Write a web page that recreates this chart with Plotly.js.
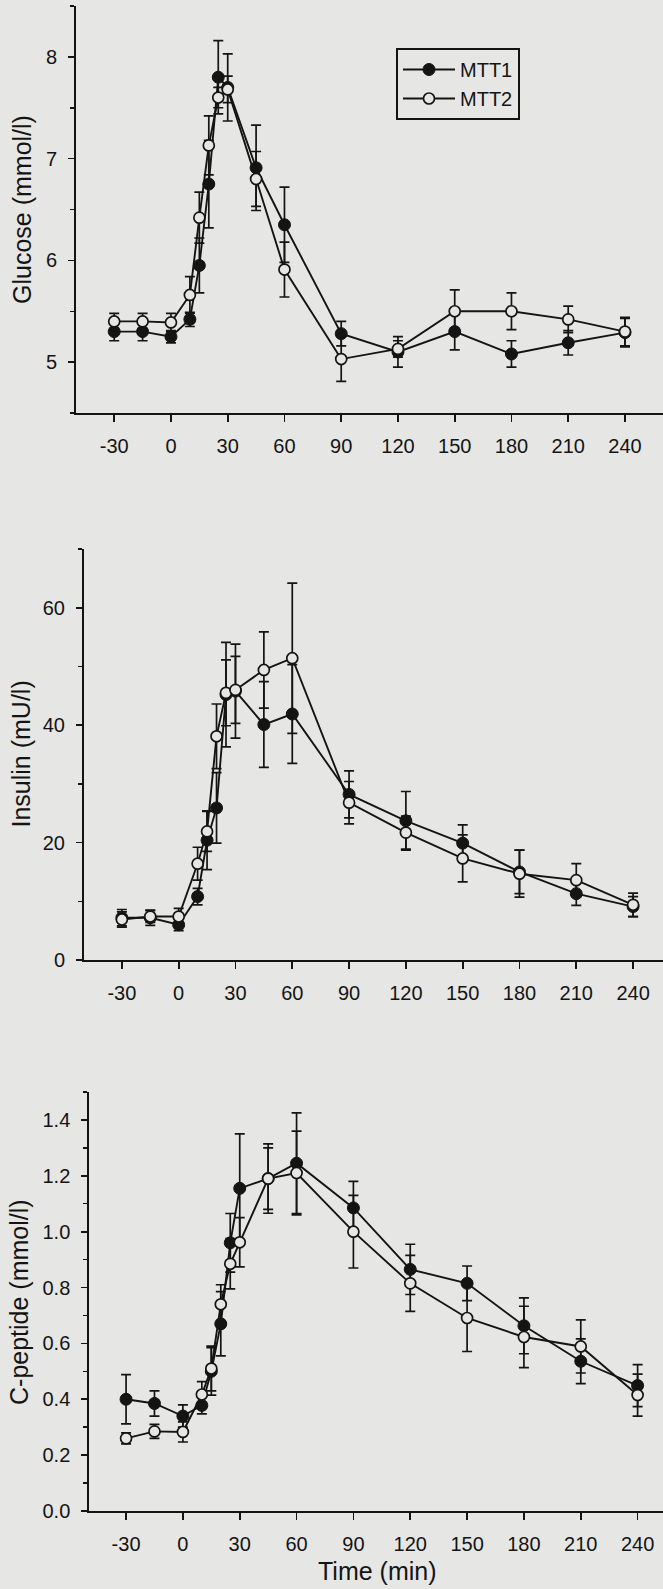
<!DOCTYPE html>
<html><head><meta charset="utf-8">
<script src="https://cdn.plot.ly/plotly-3.0.1.min.js"></script>
<style>html,body{margin:0;padding:0;background:#e6e6e4;} #chart{width:663px;height:1589px;}</style>
</head><body><div id="chart"></div>
<script>
// ---- data ----
const time = [-30, -15, 0, 10, 15, 20, 25, 30, 45, 60, 90, 120, 150, 180, 210, 240];
const xTickVals = [-30, 0, 30, 60, 90, 120, 150, 180, 210, 240];
const xTickText = ["-30", "0", "30", "60", "90", "120", "150", "180", "210", "240"];
const seriesNames = ["MTT1", "MTT2"];

const glucoseMTT1    = [5.30, 5.30, 5.25, 5.42, 5.95, 6.75, 7.80, 7.70, 6.91, 6.35, 5.28, 5.10, 5.30, 5.08, 5.19, 5.29];
const glucoseMTT1Err = [0.09, 0.09, 0.06, 0.07, 0.27, 0.43, 0.36, 0.33, 0.42, 0.37, 0.12, 0.15, 0.18, 0.13, 0.12, 0.14];
const glucoseMTT2    = [5.40, 5.40, 5.39, 5.66, 6.42, 7.13, 7.60, 7.68, 6.80, 5.91, 5.03, 5.13, 5.50, 5.50, 5.42, 5.30];
const glucoseMTT2Err = [0.08, 0.08, 0.09, 0.18, 0.25, 0.29, 0.10, 0.13, 0.27, 0.27, 0.22, 0.08, 0.21, 0.18, 0.13, 0.14];

const insulinMTT1    = [7.2, 7.2, 6.0, 10.8, 20.4, 25.9, 45.2, 45.8, 40.1, 41.9, 28.2, 23.7, 19.9, 15.0, 11.3, 9.1];
const insulinMTT1Err = [1.4, 1.3, 1.0, 1.4, 5.0, 6.0, 8.9, 8.0, 7.3, 8.4, 4.0, 5.0, 3.1, 3.7, 2.0, 1.7];
const insulinMTT2    = [6.9, 7.4, 7.4, 16.4, 21.9, 38.1, 45.5, 46.0, 49.4, 51.4, 26.8, 21.7, 17.3, 14.7, 13.6, 9.4];
const insulinMTT2Err = [1.3, 1.0, 1.4, 2.8, 3.4, 5.5, 5.6, 5.7, 6.5, 12.8, 3.6, 2.8, 4.0, 4.0, 2.8, 2.0];

const cpepMTT1    = [0.400, 0.385, 0.340, 0.378, 0.500, 0.670, 0.960, 1.155, 1.190, 1.245, 1.085, 0.865, 0.815, 0.663, 0.536, 0.449];
const cpepMTT1Err = [0.088, 0.045, 0.040, 0.030, 0.085, 0.115, 0.105, 0.195, 0.124, 0.180, 0.095, 0.090, 0.062, 0.100, 0.080, 0.075];
const cpepMTT2    = [0.260, 0.285, 0.283, 0.417, 0.510, 0.740, 0.885, 0.962, 1.190, 1.210, 1.000, 0.815, 0.691, 0.623, 0.589, 0.415];
const cpepMTT2Err = [0.020, 0.025, 0.036, 0.046, 0.080, 0.070, 0.090, 0.088, 0.110, 0.150, 0.130, 0.100, 0.120, 0.110, 0.095, 0.075];

// ---- style ----
const BG = '#e6e6e4';
const INK = '#141414';
const FONT = 'Liberation Sans, Arial, Helvetica, sans-serif';
const W = 663, H = 1589;

function pair(xa, ya, y1, e1, y2, e2, showLeg) {
  const common = {
    x: time, xaxis: xa, yaxis: ya, mode: 'lines+markers',
    line: {color: INK, width: 1.9}, cliponaxis: false
  };
  return [
    Object.assign({}, common, {
      y: y1, name: seriesNames[0], legendgroup: 'a', showlegend: showLeg,
      marker: {symbol: 'circle', size: 12, color: INK, line: {color: INK, width: 1}},
      error_y: {type: 'data', array: e1, visible: true, color: INK, thickness: 1.7, width: 5}
    }),
    Object.assign({}, common, {
      y: y2, name: seriesNames[1], legendgroup: 'b', showlegend: showLeg,
      marker: {symbol: 'circle', size: 11, color: BG, line: {color: INK, width: 1.7}},
      error_y: {type: 'data', array: e2, visible: true, color: INK, thickness: 1.7, width: 5}
    })
  ];
}

const data = [].concat(
  pair('x', 'y', glucoseMTT1, glucoseMTT1Err, glucoseMTT2, glucoseMTT2Err, true),
  pair('x2', 'y2', insulinMTT1, insulinMTT1Err, insulinMTT2, insulinMTT2Err, false),
  pair('x3', 'y3', cpepMTT1, cpepMTT1Err, cpepMTT2, cpepMTT2Err, false)
);

function xax(left, range, anchor) {
  return {
    domain: [left / W, 1], range: range, anchor: anchor,
    tickmode: 'array', tickvals: xTickVals, ticktext: xTickText,
    showgrid: false, zeroline: false, showline: true, linecolor: INK, linewidth: 2,
    ticks: 'outside', ticklen: 7, tickwidth: 1.7, tickcolor: INK,
    ticklabelstandoff: 7,
    tickfont: {family: FONT, size: 20, color: INK}
  };
}
function yax(top, bottom, range, dtick, minor, fmt, anchor) {
  return {
    domain: [1 - bottom / H, 1 - top / H], range: range, anchor: anchor,
    tick0: 0, dtick: dtick, tickformat: fmt,
    minor: {dtick: minor, ticks: 'outside', ticklen: 4, tickwidth: 1.5, tickcolor: INK, showgrid: false},
    showgrid: false, zeroline: false, showline: true, linecolor: INK, linewidth: 2,
    ticks: 'outside', ticklen: 6, tickwidth: 1.7, tickcolor: INK,
    ticklabelstandoff: 7,
    tickfont: {family: FONT, size: 20, color: INK}
  };
}

const layout = {
  width: W, height: H,
  margin: {l: 0, r: 0, t: 0, b: 0},
  paper_bgcolor: BG, plot_bgcolor: BG,
  font: {family: FONT, color: INK},
  showlegend: true,
  legend: {
    x: 396 / W, y: 1 - 48 / H, xanchor: 'left', yanchor: 'top',
    bgcolor: BG, bordercolor: INK, borderwidth: 2,
    font: {family: FONT, size: 20, color: INK},
    itemwidth: 52, tracegroupgap: 0
  },
  xaxis: xax(76, [-50.2, 260.1], 'y'),
  yaxis: Object.assign(yax(6, 413, [4.5, 8.5], 1, 0.5, '', 'x'), {tick0: 5}),
  xaxis2: xax(84, [-50, 255.8], 'y2'),
  yaxis2: yax(549, 960, [0, 70], 20, 10, '', 'x2'),
  xaxis3: xax(89.3, [-49.4, 253.4], 'y3'),
  yaxis3: yax(1092, 1511, [0, 1.5], 0.2, 0.1, '.1f', 'x3'),
  annotations: [
    {text: 'Glucose (mmol/l)', x: 22 / W, y: 1 - 210 / H},
    {text: 'Insulin (mU/l)', x: 20 / W, y: 1 - 754.5 / H},
    {text: 'C-peptide (mmol/l)', x: 19 / W, y: 1 - 1302 / H},
    {text: 'Time (min)', x: 377 / W, y: 1 - 1571 / H, textangle: 0}
  ].map(a => Object.assign({
    xref: 'paper', yref: 'paper', showarrow: false, textangle: -90,
    xanchor: 'center', yanchor: 'middle',
    font: {family: FONT, size: 25, color: INK}
  }, a))
};

Plotly.newPlot('chart', data, layout, {displayModeBar: false, staticPlot: true});
</script>
</body></html>
